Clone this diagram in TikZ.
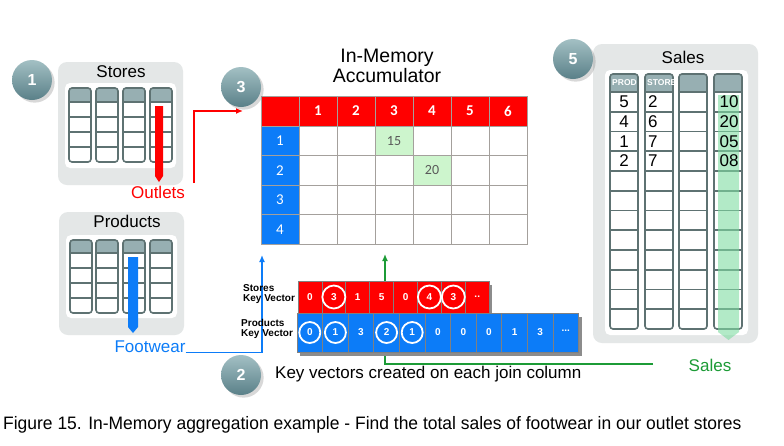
\documentclass[tikz,border=0pt]{standalone}
\usepackage{fontspec}
\setmainfont{Liberation Sans}
\newfontfamily\calfont{Carlito}
\newfontfamily\capfont[FakeStretch=0.97]{Liberation Sans}
\usetikzlibrary{shadows,arrows.meta,backgrounds}

\definecolor{panelgray}{HTML}{E4E7E7}
\definecolor{colgray}{HTML}{5E7272}
\definecolor{headgray}{HTML}{97AFB2}
\definecolor{accred}{HTML}{FF0000}
\definecolor{accblue}{HTML}{0C7CF8}
\definecolor{gridgray}{HTML}{A4A09C}
\definecolor{cellgreen}{HTML}{CDF5CD}
\definecolor{salesgreen}{HTML}{1C9B36}
\definecolor{arrowgreen}{HTML}{7FDCA2}
\definecolor{badgetop}{HTML}{A3C0C4}
\definecolor{badgebot}{HTML}{5A8088}

\newcommand{\fs}[1]{\fontsize{#1}{#1}\selectfont}

% one column of a table: x, y top, width, header height, row height, rows
\newcommand{\tablecol}[6]{%
  \begin{scope}
    \clip[rounded corners=3pt] (#1,#2) rectangle ++(#3,{#4+#5*#6});
    \fill[white] (#1,#2) rectangle ++(#3,{#4+#5*#6});
    \fill[headgray] (#1,#2) rectangle ++(#3,#4);
  \end{scope}
  \foreach \k in {1,...,#6} {\draw[colline] (#1,{#2+#4+#5*(\k-1)}) -- ++(#3,0);}
  \draw[colline, rounded corners=3pt] (#1,#2) rectangle ++(#3,{#4+#5*#6});
}

\tikzset{
  panel/.style={fill=panelgray, rounded corners=9pt},
  innerbox/.style={fill=white, rounded corners=5pt},
  colline/.style={draw=colgray, line width=1.6pt},
  badge/.style={circle, minimum size=40pt, inner sep=0pt, top color=badgetop, bottom color=badgebot, drop shadow={opacity=0.3}, text=white, font=\bfseries\fs{16}},
  title/.style={font=\fs{17}, inner sep=0pt},
  acchead/.style={rectangle, minimum width=38pt, minimum height=30pt, fill=accred, draw=gridgray, line width=0.8pt, text=white, font=\calfont\bfseries\fs{15}},
  accrow/.style={rectangle, minimum width=38pt, minimum height=29.5pt, fill=accblue, draw=gridgray, line width=0.8pt, text=white, font=\calfont\fs{15}},
  acccell/.style={rectangle, minimum width=38pt, minimum height=29.5pt, fill=white, draw=gridgray, line width=0.8pt, text=black!65, font=\calfont\fs{14}},
  storekey/.style={rectangle, minimum width=23.9pt, minimum height=32pt, fill=accred, draw=gray, line width=0.8pt, text=white, font=\bfseries\fs{10}, inner sep=0pt},
  prodkey/.style={rectangle, minimum width=25.6pt, minimum height=39pt, fill=accblue, draw=gray, line width=0.8pt, text=white, font=\bfseries\fs{10}, inner sep=0pt},
  ring/.style={draw=white, line width=1.8pt},
  keylabel/.style={align=left, anchor=west, font=\bfseries\fs{10}, inner sep=0pt},
  salesval/.style={font=\fs{17}, inner sep=0pt},
  link/.style={line width=1.3pt, -{Latex[length=7pt,width=6pt]}}
}

\begin{document}
\begin{tikzpicture}[x=1pt, y=-1pt]

\fill[white] (0,0) rectangle (784,445);
\useasboundingbox (0,0) rectangle (784,445);

% Stores table
\fill[panel] (58,62) rectangle (183,185);
\fill[innerbox] (65,83) rectangle (176,168);
\foreach \x in {69,96,123,150} {\tablecol{\x}{88}{22}{14}{15}{4}}
\fill[accred] (155,106) -- (163,106) -- (163,176) -- (159,182) -- (155,176) -- cycle;
\node[title] (stores) at (121,72) {Stores};
\node[title, text=accred] (outlets) at (158,192) {Outlets};

% Products table
\fill[panel] (59,212) rectangle (184,335);
\fill[innerbox] (66,235) rectangle (177,318);
\foreach \x in {70,96,123,150} {\tablecol{\x}{240}{22}{13}{15}{4}}
\fill[accblue] (128,257) -- (138,257) -- (138,327) -- (133,333) -- (128,327) -- cycle;
\node[title] (products) at (127,221) {Products};
\node[title, text=accblue] (footwear) at (150,347) {Footwear};

% connectors (drawn before the key vectors, which cover the green one)
\coordinate (redstart) at (194,183);
\coordinate (redtip) at (243,111);
\coordinate (bluetip) at (262,255);
\coordinate (greentip) at (385,254);
\draw[link, accred] (redstart) |- (redtip);
\draw[link, accblue] (footwear.base east) -| (bluetip);
\draw[link, salesgreen] (653,364) -| (greentip);

% In-Memory accumulator
\node[font=\fs{19.5}, align=center, inner sep=0pt] (acctitle) at (387,66) {In-Memory\\[1pt]Accumulator};
\node[acchead] (h0) at (280,111) {};
\foreach \i in {1,...,6} {
  \node[acchead] (h\i) at ({280+38*\i},111) {\i};
}
\foreach \r in {1,...,4} {
  \node[accrow] (r\r) at (280,{111.25+29.5*\r}) {\r};
  \foreach \c in {1,...,6} {
    \node[acccell] (c\r\c) at ({280+38*\c},{111.25+29.5*\r}) {};
  }
}
\node[acccell, fill=cellgreen] (v15) at (c13) {15};
\node[acccell, fill=cellgreen] (v20) at (c24) {20};

% key vectors
\fill[black!45] (301,285) rectangle (492,317);
\foreach \v [count=\i from 0] in {0,3,1,5,0,4,3} {
  \node[storekey] (s\i) at ({298+23.9*(\i+0.5)},297) {\v};
}
\node[storekey] (s7) at ({298+23.9*7.5},297) {..};
\fill[black!45] (300,317) rectangle (582,356);
\foreach \v [count=\i from 0] in {0,1,3,2,1,0,0,0,1,3} {
  \node[prodkey] (p\i) at ({297+25.6*(\i+0.5)},332.5) {\v};
}
\node[prodkey] (p10) at ({297+25.6*10.5},332.5) {\raisebox{3pt}{...}};
\foreach \i in {1,5,6} {\draw[ring] (s\i) circle (11.5);}
\foreach \i in {0,1,3,4} {\draw[ring] (p\i) circle (10.5);}
\node[keylabel] (skeylbl) at (243,294) {Stores\\Key Vector};
\node[keylabel] (pkeylbl) at (241,329) {Products\\Key Vector};
\node[font=\fs{17}, anchor=west, inner sep=0pt] (keytext) at (275,374) {Key vectors created on each join column};

% Sales table
\fill[panel] (593,44) rectangle (758,343);
\fill[innerbox] (605,70) rectangle (748,335);
\foreach \x in {610,645,679,714} {\tablecol{\x}{74}{28}{18}{19.75}{12}}
\begin{scope}
  \clip (610,74) rectangle (638,92);
  \node[font=\bfseries\fs{8.5}, text=white, anchor=west, inner sep=0pt] (prodhead) at (612,83) {PROD};
\end{scope}
\begin{scope}
  \clip (645,74) rectangle (673,92);
  \node[font=\bfseries\fs{8.5}, text=white, anchor=west, inner sep=0pt] (storehead) at (647,83) {STORE};
\end{scope}
\fill[arrowgreen, opacity=0.6] (718,95) -- (739,95) -- (739,332) -- (728.5,340) -- (718,332) -- cycle;
\foreach \p/\s/\a [count=\i] in {5/2/10, 4/6/20, 1/7/05, 2/7/08} {
  \node[salesval] (sp\i) at (624,{82+19.75*\i}) {\p};
  \node[salesval, anchor=west] (ss\i) at (648,{82+19.75*\i}) {\s};
  \node[salesval] (sa\i) at (729,{82+19.75*\i}) {\a};
}
\node[title] (sales) at (683,57) {Sales};
\node[title, text=salesgreen] (saleslbl) at (710,365) {Sales};

% numbered badges
\node[badge] (b1) at (32,80) {1};
\node[badge] (b2) at (241,375) {2};
\node[badge] (b3) at (241,87) {3};
\node[badge] (b5) at (573,59) {5};

% caption
\node[font=\capfont\fs{18}, anchor=west, inner sep=0pt] (caption) at (3,425) {Figure 15. In-Memory aggregation example - Find the total sales of footwear in our outlet stores};

\end{tikzpicture}
\end{document}
